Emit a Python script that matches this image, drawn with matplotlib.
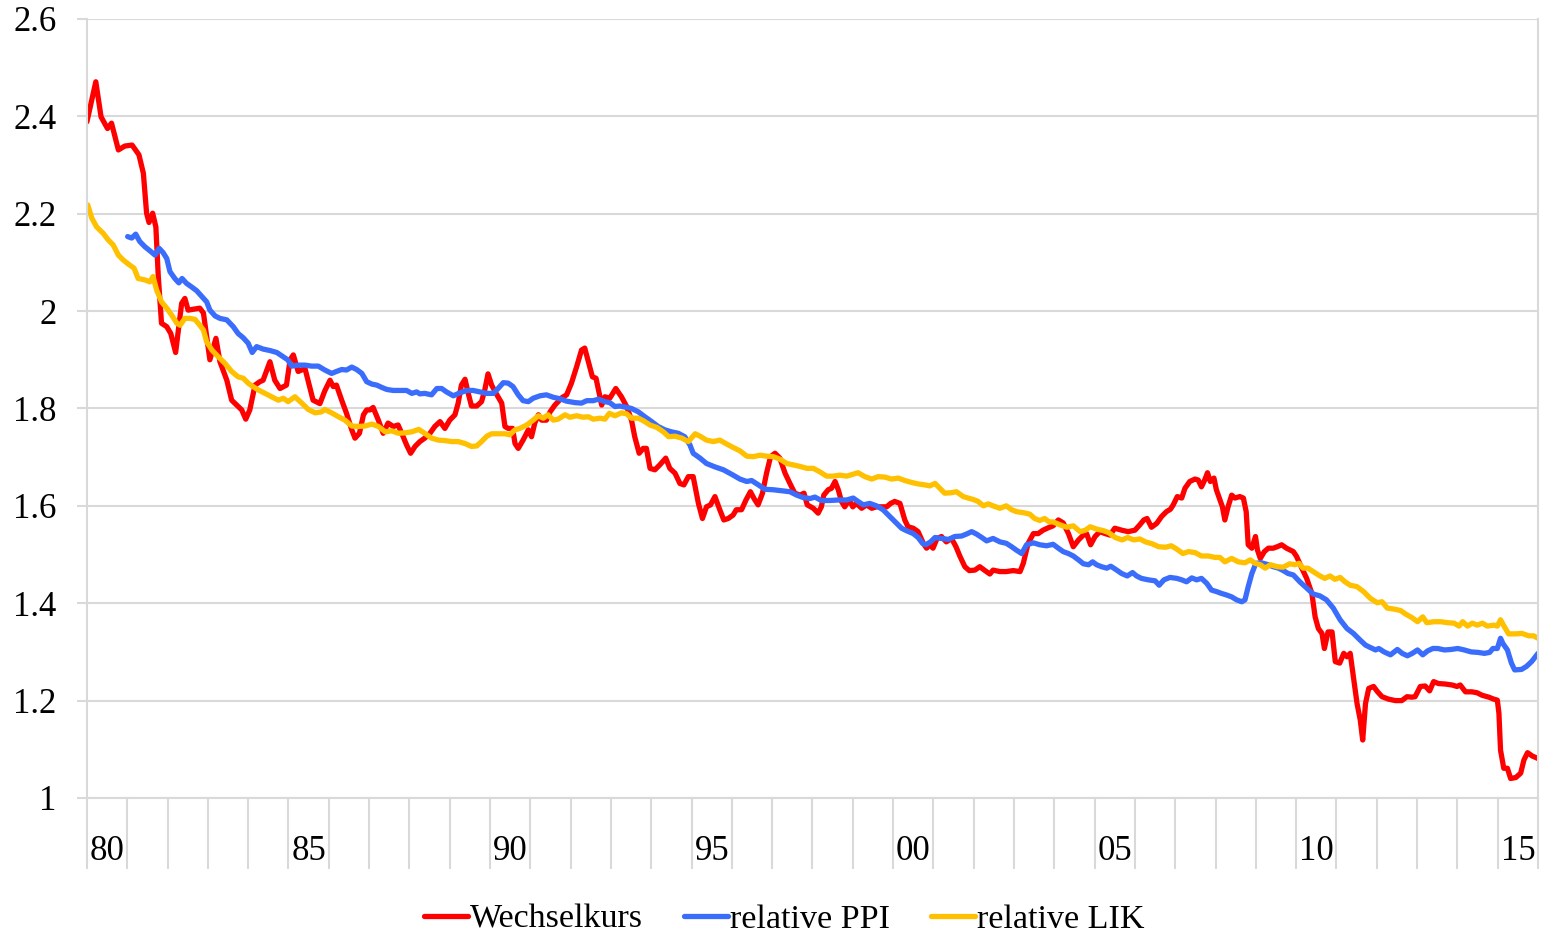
import matplotlib.pyplot as plt
from matplotlib.ticker import FixedLocator, FuncFormatter

# exchange rate (Wechselkurs): decimal year, value
wk_t = [1980.00, 1980.22, 1980.35, 1980.51, 1980.61, 1980.78, 1980.94, 1981.12, 1981.29, 1981.40,
        1981.48, 1981.54, 1981.63, 1981.71, 1981.77, 1981.85, 1981.98, 1982.08, 1982.20, 1982.35,
        1982.43, 1982.51, 1982.80, 1982.89, 1983.05, 1983.20, 1983.30, 1983.47, 1983.59, 1983.75,
        1983.84, 1983.94, 1984.04, 1984.17, 1984.29, 1984.37, 1984.54, 1984.66, 1984.79, 1984.95,
        1985.04, 1985.12, 1985.24, 1985.41, 1985.61, 1985.78, 1985.90, 1986.03, 1986.11, 1986.19,
        1986.32, 1986.44, 1986.57, 1986.65, 1986.76, 1986.86, 1986.94, 1987.02, 1987.10, 1987.23,
        1987.35, 1987.47, 1987.60, 1987.72, 1987.81, 1987.93, 1988.03, 1988.14, 1988.26, 1988.38,
        1988.51, 1988.63, 1988.76, 1988.88, 1989.00, 1989.13, 1989.21, 1989.29, 1989.38, 1989.46,
        1989.54, 1989.67, 1989.79, 1989.87, 1989.95, 1990.04, 1990.15, 1990.29, 1990.37, 1990.45,
        1990.56, 1990.62, 1990.70, 1990.82, 1990.95, 1991.03, 1991.11, 1991.20, 1991.28, 1991.40,
        1991.49, 1991.61, 1991.78, 1991.90, 1992.02, 1992.15, 1992.27, 1992.35, 1992.44, 1992.54,
        1992.63, 1992.77, 1992.85, 1992.97, 1993.12, 1993.26, 1993.39, 1993.51, 1993.59, 1993.70,
        1993.80, 1993.88, 1993.97, 1994.09, 1994.21, 1994.36, 1994.46, 1994.59, 1994.71, 1994.81,
        1994.92, 1995.04, 1995.17, 1995.27, 1995.37, 1995.47, 1995.58, 1995.70, 1995.80, 1995.91,
        1996.03, 1996.11, 1996.24, 1996.35, 1996.46, 1996.55, 1996.65, 1996.76, 1996.86, 1996.96,
        1997.07, 1997.19, 1997.32, 1997.44, 1997.56, 1997.69, 1997.79, 1997.87, 1998.02, 1998.14,
        1998.22, 1998.28, 1998.39, 1998.47, 1998.56, 1998.64, 1998.72, 1998.80, 1998.91, 1999.00,
        1999.09, 1999.22, 1999.34, 1999.47, 1999.59, 1999.71, 1999.84, 1999.94, 2000.04, 2000.17,
        2000.29, 2000.37, 2000.50, 2000.62, 2000.75, 2000.83, 2000.91, 2000.99, 2001.09, 2001.20,
        2001.32, 2001.45, 2001.56, 2001.66, 2001.78, 2001.89, 2002.03, 2002.15, 2002.28, 2002.40,
        2002.48, 2002.65, 2002.81, 2002.98, 2003.15, 2003.23, 2003.35, 2003.48, 2003.60, 2003.72,
        2003.85, 2003.97, 2004.10, 2004.22, 2004.35, 2004.47, 2004.60, 2004.72, 2004.80, 2004.90,
        2005.01, 2005.13, 2005.26, 2005.38, 2005.50, 2005.67, 2005.83, 2006.00, 2006.12, 2006.22,
        2006.30, 2006.41, 2006.54, 2006.66, 2006.78, 2006.88, 2006.95, 2007.05, 2007.16, 2007.24,
        2007.36, 2007.49, 2007.57, 2007.65, 2007.73, 2007.80, 2007.87, 2007.96, 2008.02, 2008.11,
        2008.17, 2008.23, 2008.31, 2008.40, 2008.48, 2008.60, 2008.69, 2008.76, 2008.81, 2008.90,
        2008.99, 2009.04, 2009.11, 2009.21, 2009.31, 2009.43, 2009.53, 2009.64, 2009.76, 2009.93,
        2010.01, 2010.14, 2010.26, 2010.39, 2010.47, 2010.55, 2010.64, 2010.70, 2010.79, 2010.89,
        2010.97, 2011.08, 2011.18, 2011.26, 2011.34, 2011.43, 2011.51, 2011.59, 2011.65, 2011.72,
        2011.80, 2011.92, 2012.02, 2012.13, 2012.29, 2012.46, 2012.62, 2012.75, 2012.87, 2012.95,
        2013.08, 2013.20, 2013.31, 2013.41, 2013.53, 2013.70, 2013.87, 2013.99, 2014.07, 2014.20,
        2014.36, 2014.49, 2014.61, 2014.78, 2014.90, 2014.99, 2015.03, 2015.07, 2015.15, 2015.24,
        2015.32, 2015.45, 2015.57, 2015.65, 2015.74, 2015.86, 2016.00]
wk_v = [2.389, 2.471, 2.399, 2.375, 2.386, 2.331, 2.339, 2.341, 2.321, 2.283,
        2.201, 2.182, 2.201, 2.173, 2.071, 1.975, 1.968, 1.954, 1.915, 2.016,
        2.026, 2.002, 2.006, 1.996, 1.900, 1.944, 1.896, 1.858, 1.817, 1.804,
        1.797, 1.778, 1.797, 1.848, 1.855, 1.858, 1.896, 1.858, 1.841, 1.848,
        1.900, 1.910, 1.876, 1.882, 1.817, 1.810, 1.836, 1.858, 1.845, 1.848,
        1.817, 1.790, 1.756, 1.739, 1.749, 1.787, 1.797, 1.797, 1.802, 1.776,
        1.749, 1.770, 1.763, 1.766, 1.749, 1.725, 1.708, 1.722, 1.732, 1.739,
        1.749, 1.763, 1.773, 1.759, 1.776, 1.787, 1.811, 1.848, 1.860, 1.831,
        1.805, 1.805, 1.814, 1.838, 1.871, 1.848, 1.831, 1.811, 1.763, 1.759,
        1.759, 1.728, 1.718, 1.735, 1.756, 1.742, 1.770, 1.787, 1.776, 1.776,
        1.793, 1.807, 1.822, 1.828, 1.852, 1.886, 1.920, 1.924, 1.896, 1.865,
        1.862, 1.807, 1.824, 1.821, 1.841, 1.824, 1.804, 1.776, 1.742, 1.708,
        1.718, 1.718, 1.677, 1.674, 1.684, 1.698, 1.677, 1.667, 1.646, 1.643,
        1.660, 1.660, 1.605, 1.574, 1.598, 1.602, 1.619, 1.592, 1.571, 1.574,
        1.581, 1.592, 1.592, 1.612, 1.629, 1.615, 1.602, 1.626, 1.667, 1.701,
        1.708, 1.698, 1.667, 1.646, 1.626, 1.622, 1.626, 1.602, 1.595, 1.585,
        1.598, 1.622, 1.633, 1.636, 1.650, 1.633, 1.609, 1.598, 1.612, 1.598,
        1.605, 1.595, 1.602, 1.595, 1.598, 1.598, 1.598, 1.605, 1.609, 1.605,
        1.571, 1.557, 1.554, 1.547, 1.523, 1.513, 1.520, 1.513, 1.533, 1.537,
        1.526, 1.533, 1.516, 1.496, 1.475, 1.467, 1.468, 1.475, 1.467, 1.460,
        1.468, 1.465, 1.465, 1.467, 1.465, 1.482, 1.523, 1.543, 1.543, 1.550,
        1.555, 1.559, 1.571, 1.565, 1.543, 1.516, 1.530, 1.540, 1.543, 1.520,
        1.537, 1.547, 1.543, 1.540, 1.554, 1.550, 1.547, 1.550, 1.561, 1.571,
        1.574, 1.556, 1.564, 1.578, 1.588, 1.593, 1.602, 1.619, 1.616, 1.636,
        1.650, 1.655, 1.653, 1.639, 1.653, 1.668, 1.650, 1.657, 1.633, 1.612,
        1.598, 1.571, 1.598, 1.622, 1.616, 1.619, 1.616, 1.588, 1.520, 1.513,
        1.537, 1.509, 1.492, 1.506, 1.513, 1.513, 1.516, 1.520, 1.513, 1.506,
        1.496, 1.472, 1.451, 1.420, 1.372, 1.348, 1.338, 1.307, 1.341, 1.341,
        1.280, 1.277, 1.297, 1.290, 1.297, 1.242, 1.194, 1.160, 1.119, 1.194,
        1.225, 1.229, 1.218, 1.208, 1.203, 1.200, 1.200, 1.208, 1.207, 1.208,
        1.229, 1.230, 1.220, 1.239, 1.235, 1.234, 1.232, 1.229, 1.232, 1.218,
        1.218, 1.216, 1.211, 1.207, 1.203, 1.201, 1.174, 1.098, 1.061, 1.061,
        1.040, 1.042, 1.051, 1.078, 1.093, 1.086, 1.081]

# relative producer prices (PPI)
ppi_t = [1981.01, 1981.11, 1981.21, 1981.31, 1981.44, 1981.56, 1981.69, 1981.79, 1981.89, 1981.98,
         1982.06, 1982.18, 1982.28, 1982.36, 1982.47, 1982.59, 1982.72, 1982.84, 1982.97, 1983.05,
         1983.18, 1983.30, 1983.47, 1983.63, 1983.75, 1983.88, 1984.00, 1984.10, 1984.21, 1984.37,
         1984.54, 1984.71, 1984.87, 1984.98, 1985.08, 1985.24, 1985.41, 1985.57, 1985.74, 1985.90,
         1986.07, 1986.19, 1986.32, 1986.44, 1986.57, 1986.69, 1986.82, 1986.94, 1987.07, 1987.19,
         1987.32, 1987.44, 1987.60, 1987.77, 1987.93, 1988.06, 1988.18, 1988.26, 1988.38, 1988.55,
         1988.68, 1988.80, 1988.92, 1989.09, 1989.25, 1989.42, 1989.58, 1989.75, 1989.92, 1990.08,
         1990.20, 1990.33, 1990.45, 1990.57, 1990.70, 1990.82, 1990.95, 1991.07, 1991.24, 1991.40,
         1991.57, 1991.73, 1991.90, 1992.11, 1992.27, 1992.40, 1992.56, 1992.69, 1992.85, 1992.97,
         1993.10, 1993.22, 1993.39, 1993.51, 1993.68, 1993.84, 1994.01, 1994.17, 1994.34, 1994.50,
         1994.67, 1994.83, 1994.96, 1995.04, 1995.21, 1995.37, 1995.58, 1995.79, 1995.99, 1996.20,
         1996.37, 1996.49, 1996.66, 1996.82, 1997.03, 1997.24, 1997.44, 1997.61, 1997.77, 1997.94,
         1998.06, 1998.22, 1998.43, 1998.64, 1998.85, 1999.01, 1999.13, 1999.26, 1999.42, 1999.59,
         1999.75, 1999.92, 2000.09, 2000.21, 2000.33, 2000.50, 2000.62, 2000.73, 2000.81, 2000.93,
         2001.04, 2001.20, 2001.37, 2001.53, 2001.70, 2001.82, 2001.95, 2002.07, 2002.20, 2002.32,
         2002.48, 2002.65, 2002.81, 2002.94, 2003.06, 2003.19, 2003.31, 2003.48, 2003.64, 2003.81,
         2003.97, 2004.10, 2004.22, 2004.35, 2004.47, 2004.60, 2004.72, 2004.85, 2004.95, 2005.05,
         2005.17, 2005.30, 2005.40, 2005.53, 2005.67, 2005.81, 2005.94, 2006.04, 2006.16, 2006.33,
         2006.50, 2006.60, 2006.72, 2006.87, 2007.04, 2007.16, 2007.28, 2007.41, 2007.53, 2007.65,
         2007.78, 2007.90, 2008.02, 2008.15, 2008.27, 2008.40, 2008.52, 2008.65, 2008.73, 2008.81,
         2008.90, 2009.00, 2009.14, 2009.31, 2009.43, 2009.56, 2009.68, 2009.80, 2009.93, 2010.09,
         2010.26, 2010.42, 2010.59, 2010.75, 2010.92, 2011.09, 2011.26, 2011.42, 2011.59, 2011.72,
         2011.84, 2011.97, 2012.05, 2012.18, 2012.34, 2012.51, 2012.63, 2012.76, 2012.88, 2013.01,
         2013.14, 2013.26, 2013.39, 2013.51, 2013.68, 2013.84, 2014.01, 2014.17, 2014.34, 2014.51,
         2014.67, 2014.80, 2014.88, 2014.99, 2015.07, 2015.13, 2015.24, 2015.34, 2015.42, 2015.59,
         2015.71, 2015.84, 2016.00]
ppi_v = [2.153, 2.150, 2.158, 2.143, 2.132, 2.124, 2.115, 2.129, 2.120, 2.108,
         2.081, 2.067, 2.058, 2.067, 2.057, 2.050, 2.042, 2.031, 2.019, 2.002,
         1.990, 1.985, 1.982, 1.968, 1.954, 1.945, 1.934, 1.915, 1.927, 1.922,
         1.919, 1.915, 1.906, 1.900, 1.887, 1.889, 1.889, 1.887, 1.887, 1.879,
         1.872, 1.876, 1.880, 1.879, 1.885, 1.880, 1.872, 1.855, 1.850, 1.848,
         1.843, 1.839, 1.837, 1.837, 1.837, 1.831, 1.834, 1.830, 1.831, 1.828,
         1.841, 1.841, 1.834, 1.826, 1.832, 1.837, 1.837, 1.834, 1.831, 1.831,
         1.841, 1.853, 1.852, 1.845, 1.828, 1.816, 1.814, 1.821, 1.826, 1.828,
         1.823, 1.820, 1.815, 1.812, 1.811, 1.816, 1.816, 1.819, 1.814, 1.812,
         1.804, 1.805, 1.802, 1.800, 1.793, 1.783, 1.773, 1.763, 1.756, 1.752,
         1.749, 1.742, 1.725, 1.708, 1.698, 1.687, 1.680, 1.674, 1.665, 1.655,
         1.650, 1.652, 1.643, 1.634, 1.633, 1.631, 1.629, 1.622, 1.617, 1.615,
         1.618, 1.611, 1.611, 1.612, 1.612, 1.616, 1.609, 1.602, 1.605, 1.600,
         1.592, 1.578, 1.564, 1.554, 1.549, 1.543, 1.535, 1.523, 1.520, 1.526,
         1.535, 1.533, 1.531, 1.537, 1.538, 1.542, 1.547, 1.542, 1.535, 1.528,
         1.533, 1.526, 1.523, 1.516, 1.509, 1.502, 1.520, 1.524, 1.520, 1.518,
         1.521, 1.513, 1.506, 1.502, 1.497, 1.489, 1.481, 1.479, 1.485, 1.479,
         1.475, 1.472, 1.476, 1.469, 1.461, 1.456, 1.463, 1.456, 1.451, 1.448,
         1.446, 1.437, 1.448, 1.453, 1.451, 1.448, 1.444, 1.452, 1.448, 1.451,
         1.441, 1.427, 1.424, 1.420, 1.417, 1.413, 1.407, 1.403, 1.407, 1.434,
         1.461, 1.482, 1.483, 1.479, 1.475, 1.472, 1.467, 1.461, 1.458, 1.444,
         1.431, 1.419, 1.415, 1.407, 1.390, 1.366, 1.348, 1.338, 1.324, 1.314,
         1.309, 1.304, 1.307, 1.300, 1.294, 1.305, 1.297, 1.292, 1.297, 1.304,
         1.294, 1.302, 1.307, 1.307, 1.304, 1.305, 1.307, 1.304, 1.300, 1.299,
         1.297, 1.299, 1.307, 1.307, 1.328, 1.317, 1.304, 1.277, 1.263, 1.264,
         1.270, 1.280, 1.297]

# relative consumer prices (LIK)
lik_t = [1980.02, 1980.12, 1980.24, 1980.40, 1980.53, 1980.65, 1980.78, 1980.90, 1981.02, 1981.17,
         1981.27, 1981.44, 1981.56, 1981.64, 1981.73, 1981.85, 1981.98, 1982.10, 1982.23, 1982.31,
         1982.43, 1982.56, 1982.68, 1982.80, 1982.89, 1982.97, 1983.10, 1983.26, 1983.42, 1983.59,
         1983.75, 1983.88, 1984.00, 1984.12, 1984.25, 1984.42, 1984.58, 1984.75, 1984.87, 1984.99,
         1985.16, 1985.33, 1985.49, 1985.66, 1985.82, 1985.90, 1986.07, 1986.24, 1986.40, 1986.57,
         1986.73, 1986.90, 1987.07, 1987.23, 1987.40, 1987.56, 1987.73, 1987.89, 1988.06, 1988.23,
         1988.38, 1988.55, 1988.72, 1988.88, 1989.05, 1989.21, 1989.38, 1989.54, 1989.67, 1989.79,
         1989.92, 1990.04, 1990.21, 1990.37, 1990.49, 1990.62, 1990.74, 1990.91, 1991.07, 1991.20,
         1991.32, 1991.44, 1991.57, 1991.69, 1991.86, 1991.98, 1992.15, 1992.31, 1992.44, 1992.56,
         1992.73, 1992.85, 1992.96, 1993.10, 1993.26, 1993.39, 1993.51, 1993.68, 1993.80, 1993.97,
         1994.14, 1994.30, 1994.43, 1994.59, 1994.76, 1994.92, 1995.09, 1995.21, 1995.37, 1995.54,
         1995.70, 1995.87, 1996.03, 1996.20, 1996.37, 1996.53, 1996.70, 1996.86, 1997.03, 1997.19,
         1997.36, 1997.52, 1997.69, 1997.86, 1998.02, 1998.18, 1998.35, 1998.51, 1998.68, 1998.85,
         1999.01, 1999.13, 1999.30, 1999.47, 1999.63, 1999.80, 1999.96, 2000.13, 2000.29, 2000.46,
         2000.62, 2000.79, 2000.91, 2001.04, 2001.16, 2001.28, 2001.45, 2001.57, 2001.74, 2001.86,
         2001.99, 2002.11, 2002.24, 2002.36, 2002.48, 2002.65, 2002.81, 2002.94, 2003.06, 2003.23,
         2003.39, 2003.51, 2003.64, 2003.76, 2003.87, 2003.97, 2004.14, 2004.31, 2004.47, 2004.64,
         2004.77, 2004.89, 2005.06, 2005.22, 2005.35, 2005.51, 2005.68, 2005.82, 2005.97, 2006.12,
         2006.26, 2006.43, 2006.59, 2006.76, 2006.90, 2007.04, 2007.19, 2007.33, 2007.49, 2007.65,
         2007.82, 2007.99, 2008.11, 2008.23, 2008.40, 2008.56, 2008.73, 2008.86, 2008.98, 2009.11,
         2009.23, 2009.36, 2009.53, 2009.68, 2009.84, 2009.97, 2010.07, 2010.17, 2010.29, 2010.42,
         2010.59, 2010.71, 2010.84, 2010.96, 2011.09, 2011.21, 2011.34, 2011.51, 2011.67, 2011.84,
         2012.01, 2012.13, 2012.26, 2012.42, 2012.59, 2012.71, 2012.88, 2013.01, 2013.14, 2013.24,
         2013.42, 2013.59, 2013.75, 2013.92, 2014.04, 2014.13, 2014.25, 2014.37, 2014.49, 2014.62,
         2014.74, 2014.91, 2014.99, 2015.07, 2015.17, 2015.27, 2015.44, 2015.60, 2015.77, 2015.89,
         2016.00]
lik_v = [2.218, 2.191, 2.173, 2.160, 2.146, 2.136, 2.115, 2.105, 2.097, 2.088,
         2.067, 2.064, 2.060, 2.071, 2.043, 2.019, 2.006, 1.992, 1.975, 1.971,
         1.985, 1.985, 1.983, 1.971, 1.961, 1.937, 1.920, 1.906, 1.893, 1.876,
         1.865, 1.862, 1.852, 1.845, 1.838, 1.831, 1.824, 1.817, 1.821, 1.814,
         1.824, 1.811, 1.798, 1.791, 1.793, 1.798, 1.791, 1.783, 1.776, 1.764,
         1.763, 1.764, 1.768, 1.763, 1.752, 1.754, 1.749, 1.750, 1.752, 1.757,
         1.749, 1.739, 1.735, 1.734, 1.732, 1.732, 1.728, 1.722, 1.723, 1.732,
         1.743, 1.748, 1.748, 1.748, 1.746, 1.756, 1.759, 1.766, 1.776, 1.785,
         1.780, 1.787, 1.776, 1.778, 1.787, 1.782, 1.785, 1.782, 1.783, 1.778,
         1.780, 1.778, 1.790, 1.785, 1.791, 1.789, 1.780, 1.780, 1.775, 1.766,
         1.761, 1.752, 1.742, 1.743, 1.739, 1.732, 1.748, 1.743, 1.735, 1.732,
         1.735, 1.727, 1.720, 1.713, 1.702, 1.701, 1.704, 1.702, 1.701, 1.696,
         1.687, 1.684, 1.681, 1.677, 1.677, 1.670, 1.661, 1.661, 1.663, 1.661,
         1.665, 1.668, 1.660, 1.655, 1.660, 1.659, 1.655, 1.657, 1.652, 1.648,
         1.645, 1.643, 1.641, 1.646, 1.636, 1.626, 1.627, 1.629, 1.619, 1.616,
         1.613, 1.609, 1.600, 1.604, 1.600, 1.595, 1.600, 1.592, 1.588, 1.586,
         1.583, 1.574, 1.570, 1.574, 1.567, 1.567, 1.561, 1.556, 1.559, 1.547,
         1.550, 1.557, 1.552, 1.549, 1.545, 1.535, 1.530, 1.535, 1.530, 1.532,
         1.526, 1.522, 1.516, 1.515, 1.518, 1.511, 1.502, 1.506, 1.504, 1.497,
         1.497, 1.494, 1.494, 1.485, 1.492, 1.485, 1.483, 1.489, 1.482, 1.479,
         1.472, 1.479, 1.475, 1.474, 1.481, 1.479, 1.482, 1.472, 1.472, 1.465,
         1.456, 1.451, 1.456, 1.449, 1.453, 1.444, 1.437, 1.434, 1.424, 1.410,
         1.401, 1.403, 1.390, 1.388, 1.385, 1.378, 1.370, 1.362, 1.372, 1.360,
         1.362, 1.362, 1.360, 1.359, 1.353, 1.362, 1.353, 1.359, 1.355, 1.359,
         1.353, 1.355, 1.353, 1.366, 1.351, 1.337, 1.337, 1.338, 1.333, 1.333,
         1.328]

years = list(range(1980, 2017))
label_years = [1980, 1985, 1990, 1995, 2000, 2005, 2010, 2015]
y_ticks = [1.0, 1.2, 1.4, 1.6, 1.8, 2.0, 2.2, 2.4, 2.6]

plt.rcParams['font.family'] = ['Liberation Serif', 'DejaVu Serif']
grid_col = '#d9d9d9'

fig = plt.figure(figsize=(15.47, 9.39), dpi=100)
ax = fig.add_axes([0.0562, 0.1502, 0.9380, 0.8296])

lw = 3.8
ax.plot(wk_t, wk_v, color='#ff0000', lw=lw, solid_joinstyle='round', solid_capstyle='round', label='Wechselkurs')
ax.plot(ppi_t, ppi_v, color='#3a6dfc', lw=lw, solid_joinstyle='round', solid_capstyle='round', label='relative PPI')
ax.plot(lik_t, lik_v, color='#ffc000', lw=lw, solid_joinstyle='round', solid_capstyle='round', label='relative LIK')

ax.set_xlim(1980, 2016)
ax.set_ylim(1.0, 2.6)

# y axis: horizontal grid, short grey ticks
ax.set_yticks(y_ticks)
ax.yaxis.set_major_formatter(FuncFormatter(lambda v, p: f'{v:g}'))
ax.grid(axis='y', color=grid_col, lw=1.5)
ax.tick_params(axis='y', length=7, width=1.5, color=grid_col, pad=15, labelsize=25)

# x axis: a long tick at every year, labels every five years centred in the year
ax.xaxis.set_major_locator(FixedLocator(years))
ax.xaxis.set_major_formatter(FuncFormatter(lambda v, p: ''))
ax.xaxis.set_minor_locator(FixedLocator([y + 0.5 for y in label_years]))
ax.xaxis.set_minor_formatter(FuncFormatter(lambda v, p: f'{int(v) % 100:02d}'))
ax.tick_params(axis='x', which='major', length=51, width=1.5, color=grid_col)
ax.tick_params(axis='x', which='minor', length=0, pad=27, labelsize=25)

ax.spines['top'].set_visible(False)
for side in ['left', 'right', 'bottom']:
    ax.spines[side].set_color(grid_col)
    ax.spines[side].set_linewidth(1.5)
ax.set_axisbelow(True)

fig.legend(loc='center', bbox_to_anchor=(0.507, 0.021), ncol=3, frameon=False,
           fontsize=24.5, handlelength=1.3, handletextpad=0.06, columnspacing=1.2,
           borderaxespad=0)

fig.savefig('out.png', dpi=100)
